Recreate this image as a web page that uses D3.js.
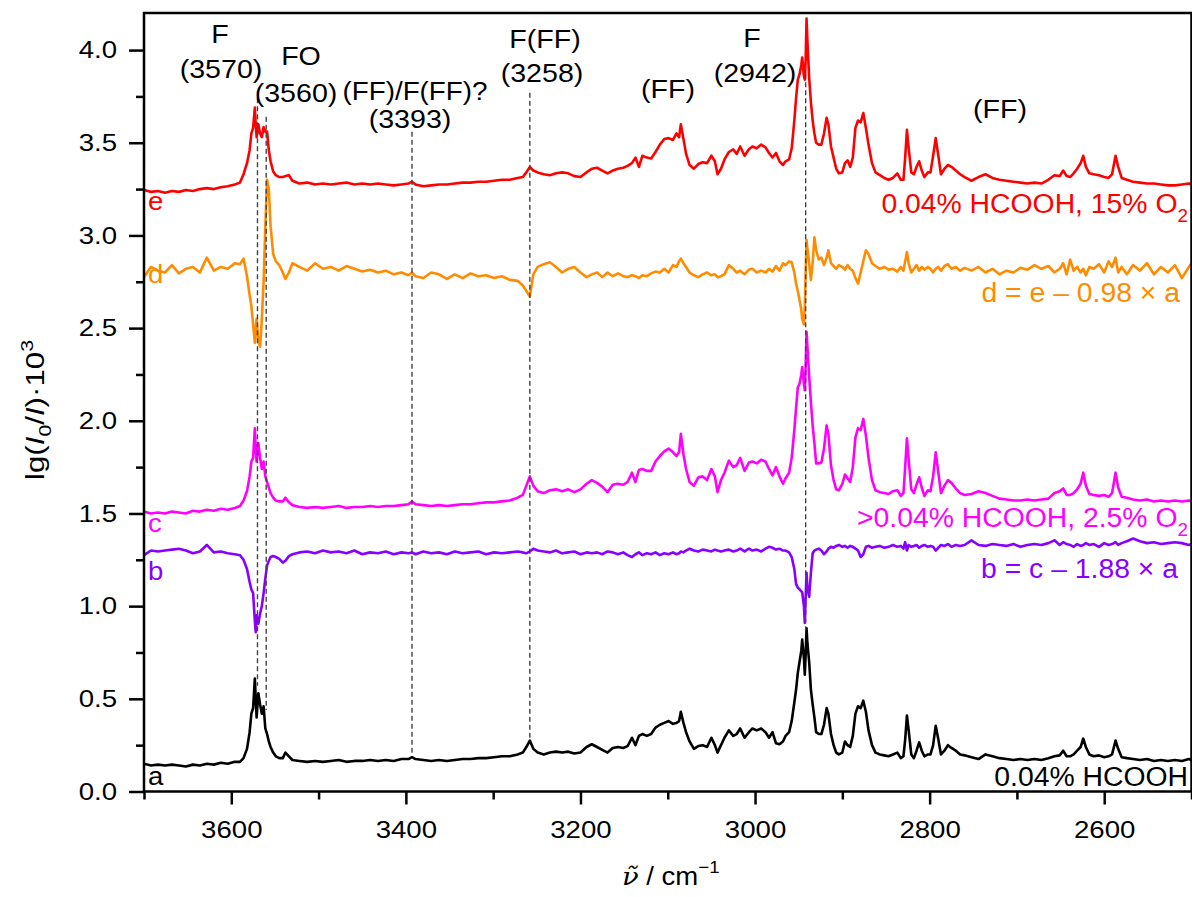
<!DOCTYPE html>
<html>
<head>
<meta charset="utf-8">
<script src="https://cdn.jsdelivr.net/npm/d3@7"></script>
<style>
  body { margin: 0; background: #fff; }
  svg { display: block; font-family: "Liberation Sans", Arial, sans-serif; }
</style>
</head>
<body>
<svg id="chart" width="1192" height="897"></svg>
<script>
// ---------- Data ----------
// shared wavenumber grid, cm^-1
const NU = [
  3700, 3692, 3684, 3676, 3668, 3660, 3652, 3644, 3636, 3628, 3620, 3612, 3604, 3596,
  3590, 3586, 3582, 3579, 3577, 3575, 3573, 3572, 3571, 3569, 3567, 3565, 3563, 3561, 3559, 3557, 3555, 3552, 3549, 3545, 3541, 3538, 3534, 3530,
  3522, 3513, 3504, 3495, 3486, 3477, 3468, 3459, 3450, 3441, 3432, 3423, 3414, 3405, 3397, 3393, 3389, 3380, 3371, 3362, 3353, 3344, 3335, 3326, 3317, 3308, 3299, 3290, 3281, 3272,
  3266, 3262, 3258, 3254, 3249, 3242, 3235, 3228, 3221, 3214, 3207, 3200, 3193, 3187, 3181, 3175, 3169, 3163, 3157, 3151, 3146, 3141, 3137, 3133, 3129,
  3124, 3119, 3114, 3109, 3104, 3099, 3094, 3090, 3087, 3085, 3082, 3079, 3075, 3070, 3065, 3060, 3055, 3050, 3046, 3043, 3039, 3035, 3030, 3025, 3021, 3017, 3012, 3007, 3003, 2998, 2993, 2988, 2984, 2980, 2976, 2972, 2968, 2965,
  2961, 2958, 2955, 2953, 2951, 2949, 2947, 2946, 2944, 2943, 2942, 2941, 2940, 2938, 2936, 2934, 2932, 2930, 2927, 2924, 2921, 2918, 2916, 2913, 2910, 2907, 2904,
  2900, 2897, 2894, 2891, 2888, 2885, 2882, 2879, 2876, 2873, 2870, 2866, 2862, 2857, 2852, 2847, 2842, 2837, 2833, 2830, 2828, 2826, 2824, 2821, 2818, 2815, 2812, 2809, 2806, 2802, 2799, 2796, 2793, 2790, 2787, 2783, 2779, 2775, 2770, 2765, 2760,
  2752, 2744, 2736, 2728, 2720, 2712, 2704, 2696, 2688, 2680, 2672, 2664, 2657, 2651, 2647, 2643, 2639, 2635, 2631, 2627, 2624, 2621, 2617, 2612, 2606, 2600, 2595, 2591, 2587, 2584, 2580, 2574, 2567, 2559, 2551, 2543, 2535, 2527, 2519, 2511, 2503, 2500
];

// a: 0.04% HCOOH
const specA = [
  0.15, 0.14, 0.145, 0.14, 0.145, 0.14, 0.135, 0.145, 0.14, 0.15, 0.145, 0.155, 0.15, 0.16,
  0.16, 0.18, 0.23, 0.32, 0.42, 0.45, 0.61, 0.50, 0.40, 0.53, 0.47, 0.42, 0.46, 0.34, 0.31, 0.27, 0.24, 0.21, 0.19, 0.18, 0.18, 0.21, 0.19, 0.17,
  0.165, 0.16, 0.165, 0.16, 0.165, 0.17, 0.16, 0.165, 0.165, 0.17, 0.165, 0.17, 0.165, 0.175, 0.175, 0.185, 0.175, 0.17, 0.165, 0.17, 0.165, 0.17, 0.175, 0.175, 0.18, 0.18, 0.185, 0.19, 0.19, 0.2,
  0.21, 0.24, 0.275, 0.23, 0.21, 0.2, 0.21, 0.215, 0.21, 0.215, 0.205, 0.21, 0.24, 0.255, 0.24, 0.225, 0.21, 0.235, 0.24, 0.235, 0.245, 0.29, 0.25, 0.3, 0.31,
  0.30, 0.31, 0.345, 0.36, 0.37, 0.38, 0.365, 0.37, 0.38, 0.43, 0.37, 0.32, 0.27, 0.23, 0.245, 0.25, 0.24, 0.29, 0.25, 0.21, 0.25, 0.29, 0.33, 0.3, 0.31, 0.34, 0.29, 0.32, 0.34, 0.33, 0.34, 0.32, 0.29, 0.32, 0.26, 0.255, 0.27, 0.30,
  0.32, 0.38, 0.48, 0.55, 0.64, 0.70, 0.76, 0.82, 0.72, 0.63, 0.74, 0.88, 0.80, 0.70, 0.55, 0.47, 0.40, 0.32, 0.31, 0.31, 0.36, 0.45, 0.42, 0.31, 0.25, 0.21, 0.2,
  0.21, 0.27, 0.25, 0.24, 0.30, 0.42, 0.46, 0.45, 0.49, 0.43, 0.33, 0.25, 0.21, 0.2, 0.195, 0.19, 0.2, 0.21, 0.18, 0.19, 0.28, 0.41, 0.33, 0.2, 0.18, 0.22, 0.265, 0.22, 0.19, 0.20, 0.20, 0.25, 0.355, 0.28, 0.2, 0.22, 0.25, 0.235, 0.22, 0.2, 0.195,
  0.185, 0.175, 0.2, 0.19, 0.18, 0.175, 0.17, 0.175, 0.17, 0.175, 0.17, 0.18, 0.19, 0.195, 0.22, 0.19, 0.19, 0.2, 0.22, 0.24, 0.285, 0.24, 0.2, 0.19, 0.195, 0.185, 0.19, 0.2, 0.275, 0.23, 0.185, 0.18, 0.175, 0.17, 0.175, 0.165, 0.17, 0.165, 0.17, 0.165, 0.175, 0.17
];

// b = c - 1.88 x a
const specB = [
  1.275, 1.30, 1.295, 1.30, 1.305, 1.31, 1.30, 1.285, 1.295, 1.33, 1.29, 1.295, 1.285, 1.28,
  1.275, 1.25, 1.20, 1.13, 1.09, 1.07, 0.92, 0.86, 0.95, 0.905, 0.96, 1.00, 1.07, 1.15, 1.22, 1.245, 1.265, 1.27, 1.265, 1.255, 1.235, 1.245, 1.27, 1.28,
  1.29, 1.295, 1.285, 1.30, 1.29, 1.295, 1.285, 1.30, 1.28, 1.29, 1.285, 1.295, 1.28, 1.29, 1.285, 1.29, 1.28, 1.295, 1.285, 1.29, 1.28, 1.295, 1.285, 1.29, 1.295, 1.28, 1.29, 1.285, 1.29, 1.295,
  1.29, 1.285, 1.295, 1.31, 1.30, 1.295, 1.29, 1.30, 1.285, 1.29, 1.295, 1.28, 1.29, 1.285, 1.29, 1.28, 1.295, 1.29, 1.28, 1.29, 1.275, 1.265, 1.28, 1.29, 1.275,
  1.285, 1.28, 1.29, 1.275, 1.285, 1.28, 1.29, 1.28, 1.285, 1.295, 1.29, 1.30, 1.31, 1.30, 1.295, 1.305, 1.30, 1.295, 1.305, 1.30, 1.295, 1.30, 1.305, 1.295, 1.30, 1.31, 1.295, 1.31, 1.30, 1.305, 1.295, 1.31, 1.32, 1.315, 1.305, 1.31, 1.30, 1.30,
  1.29, 1.265, 1.20, 1.12, 1.10, 1.09, 1.08, 1.075, 1.0, 0.91, 1.05, 1.18, 1.10, 1.05, 1.18, 1.285, 1.30, 1.305, 1.31, 1.30, 1.28, 1.295, 1.31, 1.32, 1.315, 1.325, 1.33,
  1.32, 1.325, 1.315, 1.325, 1.32, 1.31, 1.30, 1.265, 1.28, 1.32, 1.325, 1.315, 1.32, 1.325, 1.315, 1.32, 1.33, 1.32, 1.325, 1.31, 1.345, 1.30, 1.33, 1.32, 1.325, 1.33, 1.315, 1.325, 1.33, 1.32, 1.325, 1.32, 1.30, 1.315, 1.33, 1.325, 1.335, 1.32, 1.33, 1.325, 1.33,
  1.355, 1.33, 1.325, 1.335, 1.33, 1.325, 1.335, 1.32, 1.33, 1.335, 1.33, 1.34, 1.355, 1.33, 1.345, 1.335, 1.33, 1.32, 1.335, 1.325, 1.33, 1.34, 1.33, 1.335, 1.32, 1.34, 1.33, 1.335, 1.345, 1.33, 1.34, 1.35, 1.365, 1.35, 1.34, 1.345, 1.335, 1.34, 1.345, 1.34, 1.33, 1.335
];

// c: >0.04% HCOOH, 2.5% O2
const specC = [
  1.51, 1.50, 1.505, 1.50, 1.51, 1.505, 1.50, 1.515, 1.51, 1.52, 1.515, 1.525, 1.52, 1.53,
  1.54, 1.57, 1.62, 1.70, 1.78, 1.80, 1.96, 1.85, 1.78, 1.88, 1.80, 1.74, 1.78, 1.70, 1.67, 1.64, 1.61, 1.585, 1.57, 1.565, 1.565, 1.585, 1.56, 1.545,
  1.535, 1.53, 1.535, 1.53, 1.535, 1.54, 1.53, 1.535, 1.535, 1.54, 1.535, 1.54, 1.54, 1.545, 1.55, 1.565, 1.55, 1.545, 1.54, 1.545, 1.54, 1.545, 1.55, 1.55, 1.555, 1.56, 1.56, 1.565, 1.57, 1.585,
  1.60, 1.65, 1.70, 1.65, 1.62, 1.61, 1.625, 1.63, 1.62, 1.63, 1.615, 1.63, 1.66, 1.68, 1.665, 1.645, 1.615, 1.655, 1.66, 1.655, 1.67, 1.72, 1.67, 1.735, 1.74,
  1.73, 1.73, 1.78, 1.81, 1.835, 1.85, 1.83, 1.81, 1.83, 1.93, 1.82, 1.74, 1.67, 1.65, 1.695, 1.70, 1.68, 1.74, 1.70, 1.615, 1.68, 1.72, 1.785, 1.75, 1.76, 1.80, 1.73, 1.775, 1.78, 1.77, 1.79, 1.78, 1.74, 1.705, 1.75, 1.70, 1.66, 1.69,
  1.72, 1.80, 1.95, 2.07, 2.18, 2.20, 2.25, 2.29, 2.20, 2.165, 2.30, 2.48, 2.40, 2.24, 2.10, 1.975, 1.88, 1.77, 1.77, 1.775, 1.85, 1.975, 1.93, 1.76, 1.68, 1.63, 1.625,
  1.66, 1.71, 1.69, 1.67, 1.75, 1.91, 1.96, 1.95, 2.01, 1.92, 1.80, 1.68, 1.625, 1.615, 1.61, 1.605, 1.62, 1.625, 1.595, 1.61, 1.75, 1.905, 1.79, 1.63, 1.61, 1.655, 1.695, 1.64, 1.595, 1.625, 1.62, 1.70, 1.83, 1.72, 1.61, 1.65, 1.68, 1.665, 1.635, 1.61, 1.60,
  1.605, 1.62, 1.61, 1.595, 1.58, 1.575, 1.57, 1.57, 1.575, 1.57, 1.575, 1.58, 1.61, 1.62, 1.635, 1.60, 1.60, 1.61, 1.63, 1.66, 1.72, 1.65, 1.605, 1.60, 1.595, 1.60, 1.59, 1.61, 1.72, 1.64, 1.59, 1.585, 1.575, 1.57, 1.575, 1.565, 1.57, 1.565, 1.57, 1.565, 1.57, 1.565
];

// d = e - 0.98 x a
const specD = [
  2.775, 2.83, 2.81, 2.80, 2.84, 2.795, 2.82, 2.83, 2.80, 2.88, 2.81, 2.83, 2.82, 2.85,
  2.845, 2.875, 2.78, 2.68, 2.62, 2.52, 2.42, 2.50, 2.55, 2.43, 2.40, 2.55, 2.75, 3.05, 3.30, 3.25, 3.05, 2.90, 2.86, 2.84, 2.80, 2.765, 2.80, 2.85,
  2.83, 2.81, 2.85, 2.82, 2.83, 2.81, 2.835, 2.82, 2.805, 2.815, 2.80, 2.81, 2.79, 2.80, 2.785, 2.80, 2.78, 2.77, 2.80, 2.79, 2.765, 2.79, 2.77, 2.795, 2.78, 2.785, 2.77, 2.78, 2.76, 2.755,
  2.73, 2.70, 2.67, 2.79, 2.83, 2.845, 2.855, 2.83, 2.80, 2.82, 2.83, 2.80, 2.775, 2.79, 2.80, 2.775, 2.80, 2.78, 2.795, 2.78, 2.775, 2.785, 2.78, 2.77, 2.785,
  2.78, 2.795, 2.805, 2.80, 2.82, 2.80, 2.84, 2.83, 2.86, 2.875, 2.85, 2.83, 2.80, 2.785, 2.775, 2.79, 2.80, 2.785, 2.79, 2.775, 2.78, 2.79, 2.84, 2.82, 2.80, 2.81, 2.79, 2.815, 2.82, 2.80, 2.81, 2.80, 2.82, 2.805, 2.835, 2.81, 2.85, 2.84,
  2.86, 2.855, 2.80, 2.74, 2.70, 2.65, 2.60, 2.55, 2.52, 2.62, 2.80, 2.975, 2.93, 2.85, 2.76, 2.85, 2.99, 2.92, 2.87, 2.88, 2.84, 2.88, 2.92, 2.85, 2.835, 2.82, 2.84,
  2.83, 2.815, 2.84, 2.82, 2.81, 2.77, 2.74, 2.80, 2.86, 2.92, 2.90, 2.85, 2.835, 2.82, 2.83, 2.815, 2.82, 2.805, 2.83, 2.81, 2.86, 2.91, 2.85, 2.80, 2.82, 2.84, 2.81, 2.83, 2.815, 2.83, 2.82, 2.80, 2.82, 2.83, 2.81, 2.835, 2.845, 2.82, 2.83, 2.81, 2.825,
  2.81, 2.83, 2.80, 2.82, 2.79, 2.81, 2.80, 2.825, 2.815, 2.84, 2.82, 2.835, 2.80, 2.82, 2.85, 2.79, 2.87, 2.81, 2.83, 2.80, 2.82, 2.785, 2.83, 2.82, 2.845, 2.80, 2.86, 2.83, 2.88, 2.80, 2.83, 2.79, 2.84, 2.81, 2.85, 2.79, 2.83, 2.80, 2.84, 2.77, 2.83, 2.85
];

// e: 0.04% HCOOH, 15% O2
const specE = [
  3.245, 3.235, 3.24, 3.23, 3.24, 3.235, 3.245, 3.24, 3.25, 3.255, 3.25, 3.26, 3.265, 3.275,
  3.285, 3.33, 3.39, 3.46, 3.55, 3.58, 3.69, 3.60, 3.53, 3.60, 3.55, 3.53, 3.585, 3.56, 3.56, 3.46, 3.40, 3.345, 3.325, 3.315, 3.315, 3.32, 3.325, 3.295,
  3.28, 3.285, 3.275, 3.28, 3.275, 3.28, 3.285, 3.275, 3.28, 3.275, 3.28, 3.275, 3.27, 3.275, 3.28, 3.29, 3.275, 3.265, 3.27, 3.275, 3.275, 3.28, 3.285, 3.285, 3.29, 3.29, 3.295, 3.3, 3.30, 3.31,
  3.315, 3.34, 3.37, 3.35, 3.34, 3.33, 3.325, 3.335, 3.34, 3.335, 3.32, 3.315, 3.34, 3.36, 3.365, 3.35, 3.335, 3.35, 3.36, 3.365, 3.375, 3.39, 3.42, 3.37, 3.43,
  3.42, 3.415, 3.45, 3.49, 3.52, 3.525, 3.515, 3.55, 3.53, 3.60, 3.52, 3.44, 3.38, 3.36, 3.385, 3.395, 3.39, 3.43, 3.40, 3.33, 3.36, 3.41, 3.45, 3.465, 3.44, 3.48, 3.43, 3.465, 3.48, 3.47, 3.49, 3.475, 3.445, 3.42, 3.445, 3.40, 3.38, 3.40,
  3.41, 3.47, 3.62, 3.74, 3.84, 3.87, 3.92, 3.96, 3.86, 3.84, 3.95, 4.17, 4.05, 3.85, 3.72, 3.62, 3.55, 3.50, 3.49, 3.49, 3.55, 3.635, 3.60, 3.48, 3.42, 3.36, 3.335,
  3.34, 3.39, 3.405, 3.37, 3.42, 3.58, 3.62, 3.61, 3.66, 3.58, 3.49, 3.39, 3.34, 3.325, 3.31, 3.30, 3.31, 3.335, 3.30, 3.30, 3.42, 3.57, 3.47, 3.34, 3.33, 3.37, 3.40, 3.35, 3.315, 3.34, 3.34, 3.43, 3.525, 3.43, 3.33, 3.36, 3.38, 3.37, 3.35, 3.33, 3.315,
  3.295, 3.315, 3.33, 3.31, 3.30, 3.295, 3.29, 3.285, 3.28, 3.285, 3.28, 3.30, 3.325, 3.32, 3.35, 3.32, 3.315, 3.335, 3.36, 3.39, 3.43, 3.37, 3.335, 3.33, 3.325, 3.315, 3.31, 3.33, 3.43, 3.37, 3.31, 3.30, 3.29, 3.285, 3.28, 3.28, 3.275, 3.27, 3.27, 3.275, 3.28, 3.275
];

// band markers: position, top and bottom of the dashed line (same units as y)
const markerNu = [3570, 3560, 3393, 3258, 2942];
const markerTop = [3.74, 3.64, 3.56, 3.77, 3.87];
const markerBottom = [0.57, 0.44, 0.2, 0.27, 0.87];

const yMajor = [0, 0.5, 1, 1.5, 2, 2.5, 3, 3.5, 4];
const yMinor = [0.25, 0.75, 1.25, 1.75, 2.25, 2.75, 3.25, 3.75];
const xMajor = [3600, 3400, 3200, 3000, 2800, 2600];
const xMinor = [3700, 3500, 3300, 3100, 2900, 2700, 2500];

// ---------- Setup ----------
const plot = { left: 144, right: 1191.5, top: 13, bottom: 791.5 };
const svg = d3.select("#chart");

svg.append("rect").attr("width", 1192).attr("height", 897).attr("fill", "#fff");

const x = d3.scaleLinear().domain([3700, 2500]).range([plot.left, plot.right]);
const y = d3.scaleLinear().domain([0, 4.2]).range([plot.bottom, plot.top]);

[specA, specB, specC, specD, specE].forEach((s, i) => {
  if (s.length !== NU.length) console.warn("series " + i + " length " + s.length + " vs " + NU.length);
});

svg.append("clipPath").attr("id", "clip")
  .append("rect")
  .attr("x", plot.left).attr("y", plot.top)
  .attr("width", plot.right - plot.left).attr("height", plot.bottom - plot.top);

// ---------- Spectra ----------
const spectra = [
  { values: specA, color: "#000000" },
  { values: specB, color: "#8800ff" },
  { values: specC, color: "#ff00ff" },
  { values: specD, color: "#ff8c00" },
  { values: specE, color: "#ff0000" }
];

const line = d3.line()
  .x(d => x(d[0]))
  .y(d => y(d[1]));

const curves = svg.append("g").attr("clip-path", "url(#clip)");
spectra.forEach(s => {
  curves.append("path")
    .datum(d3.zip(NU, s.values))
    .attr("fill", "none")
    .attr("stroke", s.color)
    .attr("stroke-width", 2.6)
    .attr("stroke-linejoin", "round")
    .attr("d", line);
});

// dashed band markers
svg.append("g").selectAll("line")
  .data(markerNu)
  .enter()
  .append("line")
  .attr("x1", d => x(d)).attr("x2", d => x(d))
  .attr("y1", (d, i) => y(markerTop[i]))
  .attr("y2", (d, i) => y(markerBottom[i]))
  .attr("stroke", "#444")
  .attr("stroke-width", 1.4)
  .attr("stroke-dasharray", "5,3");

// ---------- Axes ----------
const yAxis = svg.append("g")
  .attr("transform", `translate(${plot.left},0)`)
  .call(d3.axisLeft(y).tickValues(yMajor).tickSize(15).tickPadding(12).tickFormat(d3.format(".1f")));
yAxis.append("g").call(d3.axisLeft(y).tickValues(yMinor).tickSize(8).tickFormat(""));

const xAxis = svg.append("g")
  .attr("transform", `translate(0,${plot.bottom})`)
  .call(d3.axisBottom(x).tickValues(xMajor).tickSize(13).tickPadding(16).tickFormat(d3.format("d")));
xAxis.append("g").call(d3.axisBottom(x).tickValues(xMinor).tickSize(8).tickFormat(""));

svg.selectAll(".domain").remove();
svg.selectAll(".tick line").attr("stroke", "#000").attr("stroke-width", 2.5);
svg.selectAll(".tick text")
  .attr("fill", "#000")
  .style("font-size", "24px")
  .style("font-family", "'Liberation Sans', Arial, sans-serif");
yAxis.selectAll(".tick text").each(function() {
  const tx = +this.getAttribute("x");
  d3.select(this).attr("x", 0).attr("transform", `translate(${tx},0) scale(1.15,1)`);
});
xAxis.selectAll(".tick text").attr("transform", "scale(1.15,1)");

// frame
svg.append("rect")
  .attr("x", plot.left).attr("y", plot.top)
  .attr("width", plot.right - plot.left).attr("height", plot.bottom - plot.top)
  .attr("fill", "none")
  .attr("stroke", "#000")
  .attr("stroke-width", 2.5);

// ---------- Text helper ----------
function label(tx, ty, txt, size, color, anchor, sx) {
  const g = svg.append("g").attr("transform", `translate(${tx},${ty}) scale(${sx},1)`);
  return g.append("text")
    .attr("text-anchor", anchor)
    .attr("fill", color)
    .style("font-size", size + "px")
    .text(txt);
}

// band annotations
const notes = [
  ["F", 220, 43], ["(3570)", 221, 78],
  ["FO", 301, 65], ["(3560)", 296, 102],
  ["(FF)/F(FF)?", 415, 100], ["(3393)", 410, 128],
  ["F(FF)", 545, 48], ["(3258)", 542, 82],
  ["(FF)", 668, 98],
  ["F", 752, 47], ["(2942)", 755, 82],
  ["(FF)", 1000, 118]
];
notes.forEach(n => label(n[1], n[2], n[0], 26, "#000", "middle", n[0] === "(FF)/F(FF)?" ? 1.07 : 1.1));

// curve letters
const letters = [["e", 210, "#ff0000"], ["d", 283, "#ff8c00"], ["c", 532, "#ff00ff"], ["b", 580, "#8800ff"], ["a", 785, "#000"]];
letters.forEach(l => label(148, l[1], l[0], 25, l[2], "start", 1.1));

// right-hand labels
function subLabel(tx, ty, main, sub, color) {
  const t = label(tx, ty, "", 27, color, "end", 1.05);
  t.append("tspan").text(main);
  t.append("tspan").attr("dy", 9).style("font-size", "18px").text(sub);
}
subLabel(1188, 213, "0.04% HCOOH, 15% O", "2", "#ff0000");
label(1180, 302, "d = e \u2013 0.98 \u00d7 a", 27, "#ff8c00", "end", 1.05);
subLabel(1188, 527, ">0.04% HCOOH, 2.5% O", "2", "#ff00ff");
label(1178, 578, "b = c \u2013 1.88 \u00d7 a", 27, "#8800ff", "end", 1.05);
label(1188, 786, "0.04% HCOOH", 27, "#000", "end", 1.05);

// ---------- Axis titles ----------
const yTitle = svg.append("g").attr("transform", "translate(44,410) rotate(-90) scale(1.25,1)")
  .append("text")
  .attr("text-anchor", "middle")
  .style("font-size", "25px");
yTitle.append("tspan").text("lg(");
yTitle.append("tspan").style("font-style", "italic").text("I");
yTitle.append("tspan").attr("dy", 7).style("font-size", "17px").text("0");
yTitle.append("tspan").attr("dy", -7).text("/");
yTitle.append("tspan").style("font-style", "italic").text("I");
yTitle.append("tspan").text(")\u00b710");
yTitle.append("tspan").attr("dy", -11).style("font-size", "17px").text("3");

// x title: nu with combining tilde
const xTitle = svg.append("g").attr("transform", "translate(622,885) scale(1.1,1)")
  .append("text")
  .style("font-size", "25px");
xTitle.append("tspan")
  .style("font-family", "'DejaVu Serif', serif")
  .style("font-style", "italic")
  .style("font-size", "25px")
  .text("\u03bd\u0303");
xTitle.append("tspan").text(" / cm");
xTitle.append("tspan").attr("dy", -12).style("font-size", "17px").text("\u22121");
</script>
</body>
</html>
